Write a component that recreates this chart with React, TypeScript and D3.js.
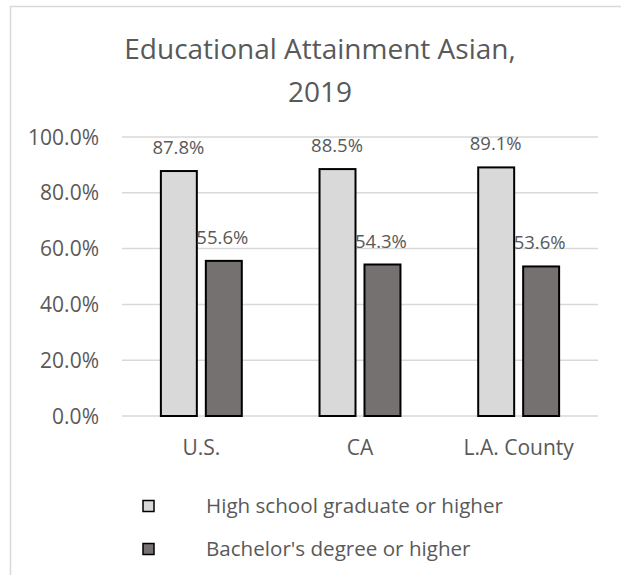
import React from "react";
import * as d3 from "d3";

const categories = ["U.S.", "CA", "L.A. County"];
const seriesNames = ["High school graduate or higher", "Bachelor's degree or higher"];
const highSchool = [87.8, 88.5, 89.1];
const bachelors = [55.6, 54.3, 53.6];
const yTicks = [0, 20, 40, 60, 80, 100];
const titleLines = ["Educational Attainment Asian,", "2019"];

const W = 621;
const H = 575;
const FONT = "'Open Sans', 'Noto Sans', sans-serif";
const TEXT = "#595959";
const GRID = "#d9d9d9";
const colors = ["#d9d9d9", "#767171"];

export default function App() {
  const x0 = d3.scaleBand<string>().domain(categories).range([122, 598]).paddingInner(0).paddingOuter(0);
  const bw = x0.bandwidth();
  const groupW = bw * 0.51;
  const x1 = d3
    .scaleBand<number>()
    .domain([0, 1])
    .range([(bw - groupW) / 2, (bw + groupW) / 2])
    .paddingInner(0.2)
    .paddingOuter(0);
  const y = d3.scaleLinear().domain([0, 100]).range([416, 137]);
  const series = [highSchool, bachelors];

  return (
    <svg width={W} height={H} style={{ position: "absolute", left: 0, top: 0, background: "#fff" }}>
      <rect x={0} y={0} width={W} height={H} fill="#fff" />
      <text x={32} y={-6} fontFamily={FONT} fontSize={20} fill="#2e74b5">g</text>
      <line x1={10.5} y1={6} x2={10.5} y2={H} stroke="#d9d9d9" strokeWidth={1.5} />
      <line x1={10} y1={6.5} x2={W} y2={6.5} stroke="#d9d9d9" strokeWidth={1.5} />

      {titleLines.map((t, i) => (
        <text key={t} x={320} y={59 + i * 43} textAnchor="middle" fontFamily={FONT} fontSize={28} fill={TEXT}>
          {t}
        </text>
      ))}

      {yTicks.map((t) => (
        <g key={t}>
          <line x1={122} x2={598} y1={y(t)} y2={y(t)} stroke={GRID} strokeWidth={1.5} />
          <text x={99} y={y(t)} dy="0.36em" textAnchor="end" fontFamily={FONT} fontSize={21} fill={TEXT}>
            {d3.format(".1f")(t) + "%"}
          </text>
        </g>
      ))}

      {categories.map((c, ci) => (
        <g key={c} transform={`translate(${x0(c)},0)`}>
          {series.map((s, si) => {
            const bx = x1(si)!;
            const w = x1.bandwidth();
            return (
              <g key={si}>
                <rect
                  x={bx}
                  y={y(s[ci])}
                  width={w}
                  height={y(0) - y(s[ci])}
                  fill={colors[si]}
                  stroke="#000"
                  strokeWidth={2}
                />
                <text
                  x={bx + w / 2 - (si === 1 ? 1.5 : 0.5)}
                  y={y(s[ci]) - 17}
                  textAnchor="middle"
                  fontFamily={FONT}
                  fontSize={18.5}
                  fill={TEXT}
                >
                  {d3.format(".1f")(s[ci]) + "%"}
                </text>
              </g>
            );
          })}
          <text x={bw / 2} y={455} textAnchor="middle" fontFamily={FONT} fontSize={21} fill={TEXT}>
            {c}
          </text>
        </g>
      ))}

      {seriesNames.map((n, i) => (
        <g key={n} transform={`translate(0,${506 + i * 43})`}>
          <rect x={143} y={-5.5} width={11} height={11} fill={colors[i]} stroke="#000" strokeWidth={1.5} />
          <text x={206} y={0} dy="0.36em" fontFamily={FONT} fontSize={20.6} fill={TEXT}>
            {n}
          </text>
        </g>
      ))}
    </svg>
  );
}
